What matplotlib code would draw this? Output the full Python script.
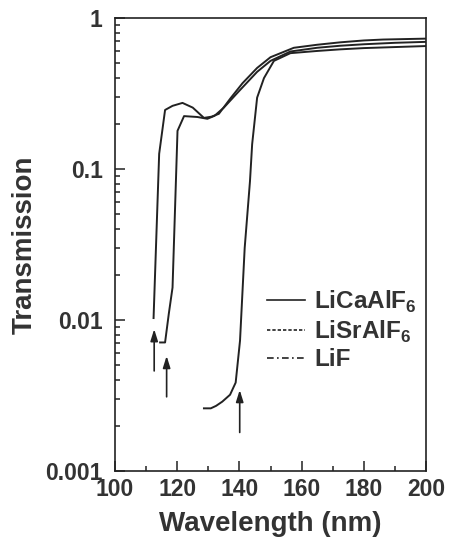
import matplotlib
matplotlib.use("Agg")
import matplotlib.pyplot as plt
from matplotlib.lines import Line2D
from matplotlib.ticker import LogLocator, FixedLocator, NullFormatter

plt.rcParams['font.family'] = ['Liberation Sans', 'DejaVu Sans']
plt.rcParams['font.weight'] = 'bold'
plt.rcParams['mathtext.fontset'] = 'custom'
plt.rcParams['mathtext.rm'] = 'Liberation Sans:bold'
plt.rcParams['mathtext.bf'] = 'Liberation Sans:bold'

# ---- data ----
labels = ["LiCaAlF$_6$", "LiSrAlF$_6$", "LiF"]
wl_a = [112.4, 114.2, 116.1, 118.5, 121.7, 125.0, 128.6, 131.0, 133.4, 137.2, 141.0, 145.7, 150.0, 157.5, 165.0, 172.4, 180.0, 186.2, 193.0, 200.0]
tr_a = [0.0103, 0.126, 0.246, 0.262, 0.274, 0.255, 0.218, 0.222, 0.232, 0.295, 0.37, 0.467, 0.55, 0.635, 0.665, 0.69, 0.71, 0.72, 0.725, 0.73]
wl_b = [114.5, 116.1, 117.3, 118.5, 120.1, 122.2, 126.5, 129.7, 132.0, 135.0, 140.0, 145.7, 150.0, 156.4, 165.0, 172.4, 180.0, 190.0, 200.0]
tr_b = [0.0071, 0.0071, 0.0110, 0.0164, 0.179, 0.224, 0.221, 0.215, 0.225, 0.255, 0.33, 0.44, 0.52, 0.60, 0.635, 0.655, 0.67, 0.685, 0.695]
wl_c = [128.6, 130.8, 132.5, 134.5, 137.0, 138.8, 140.2, 141.7, 143.4, 144.1, 145.7, 147.9, 151.1, 156.4, 165.0, 172.4, 180.0, 190.0, 200.0]
tr_c = [0.0026, 0.0026, 0.0027, 0.00288, 0.0032, 0.00385, 0.0073, 0.030, 0.083, 0.146, 0.297, 0.40, 0.52, 0.585, 0.605, 0.62, 0.632, 0.642, 0.652]
arrow_wl = [112.6, 116.6, 140.1]
arrow_tail = [0.0046, 0.0031, 0.0018]
arrow_head = [0.0087, 0.00578, 0.00344]

xticks = [100, 120, 140, 160, 180, 200]
yticks = [0.001, 0.01, 0.1, 1]
ytick_labels = ["0.001", "0.01", "0.1", "1"]

# ---- figure ----
fig = plt.figure(figsize=(4.54, 5.37), dpi=100)
ax = fig.add_axes([115/454, 1-471/537, 311/454, 453/537])

for wl, tr in [(wl_a, tr_a), (wl_b, tr_b), (wl_c, tr_c)]:
    ax.plot(wl, tr, color='#222222', lw=1.4, solid_joinstyle='round')

for x, t0, t1 in zip(arrow_wl, arrow_tail, arrow_head):
    ax.annotate('', xy=(x, t1), xytext=(x, t0),
                arrowprops=dict(arrowstyle='-|>,head_length=0.7,head_width=0.22',
                                color='#222222', lw=1.2, shrinkA=0, shrinkB=0))

ax.set_yscale('log')
ax.set_xlim(100, 200)
ax.set_ylim(0.001, 1)
ax.set_xticks(xticks)
ax.set_xticklabels([str(v) for v in xticks])
ax.xaxis.set_minor_locator(FixedLocator([110, 130, 150, 170, 190]))
ax.set_yticks(yticks)
ax.set_yticklabels(ytick_labels)
ax.yaxis.set_minor_locator(LogLocator(base=10, subs=range(2, 10)))
ax.yaxis.set_minor_formatter(NullFormatter())

ax.tick_params(which='both', direction='in', top=False, right=False,
               labelsize=16.5, width=1.1, color='#222222', labelcolor='#333333')
ax.tick_params(axis='x', which='major', length=7, pad=5)
ax.tick_params(axis='y', which='major', length=7, pad=9)
ax.tick_params(which='minor', length=3.5)
for s in ax.spines.values():
    s.set_linewidth(1.2)
    s.set_color('#222222')

ax.set_xlabel("Wavelength (nm)", fontsize=20, fontweight='bold', color='#333333', labelpad=7)
ax.set_ylabel("Transmission", fontsize=20, fontweight='bold', color='#333333', labelpad=5)

handles = [Line2D([], [], color='#222222', lw=1.2, ls='-'),
           Line2D([], [], color='#222222', lw=1.2, ls=(0, (2, 1.2))),
           Line2D([], [], color='#222222', lw=1.2, ls=(0, (4, 2, 1, 2)))]
ax.legend(handles, labels, loc='center left', bbox_to_anchor=(0.489, (471-330)/453),
          frameon=False, fontsize=17.5, handlelength=1.55, handletextpad=0.4,
          labelspacing=0.15, borderpad=0, borderaxespad=0, labelcolor='#333333')

fig.savefig("out.png", dpi=100)
